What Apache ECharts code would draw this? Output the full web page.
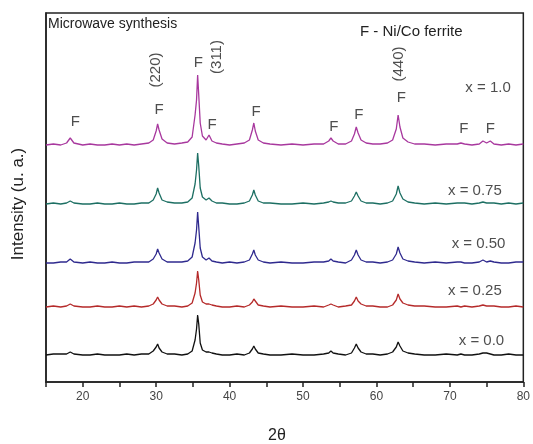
<!DOCTYPE html>
<html>
<head>
<meta charset="utf-8">
<script src="https://cdn.jsdelivr.net/npm/echarts@6/dist/echarts.min.js"></script>
<style>
  html, body { margin: 0; padding: 0; background: #fff; }
  #main { width: 533px; height: 444px; }
</style>
</head>
<body>
<div id="main"></div>
<script>
// 2θ sample points shared by all patterns
const theta = [
  15, 16, 17, 17.8, 18.3, 18.8, 20, 21, 22, 23, 24, 25, 26, 27, 28, 29, 29.6, 30.0, 30.2, 30.4,
  30.8, 31.5, 32.5, 33.5, 34.3, 34.9, 35.3, 35.5, 35.65, 35.8, 36.0, 36.3, 36.8, 37.2, 37.6, 38.2,
  39, 40, 41, 42, 42.7, 43.1, 43.3, 43.5, 43.9, 44.6, 45.5, 47, 48.5, 50, 51.5, 52.8, 53.5, 53.8,
  54.1, 54.8, 55.8, 56.6, 57.0, 57.25, 57.5, 57.9, 58.6, 59.5, 60.5, 61.5, 62.2, 62.7, 62.95, 63.2,
  63.6, 64.3, 65.2, 66.5, 68, 69.5, 71, 71.5, 72, 73, 74, 74.5, 75, 75.5, 76, 77, 78, 79, 80
];

// intensities above each pattern's own baseline
const x100 = [
  0, 1, 0, 2, 7, 2, 0, 1, 0, 0, 1, 0, 1, 0, 1, 2, 5, 14, 21, 15,
  6, 2, 1, 2, 3, 8, 30, 45, 70, 50, 22, 9, 5, 10, 4, 2,
  1, 0, 1, 2, 5, 15, 22, 14, 5, 2, 1, 0, 1, 0, 1, 1, 4, 7,
  4, 1, 1, 4, 11, 18, 12, 5, 2, 1, 1, 2, 5, 16, 30, 18,
  7, 3, 1, 1, 0, 1, 1, 2, 1, 0, 1, 4, 2, 4, 1, 0, 1, 0, 1
];
const x075 = [
  0, 1, 0, 1, 3, 1, 0, 0, 1, 0, 0, 1, 0, 0, 1, 1, 4, 10, 16, 11,
  4, 2, 1, 1, 2, 6, 20, 34, 51, 38, 16, 7, 4, 6, 3, 1,
  1, 0, 0, 1, 3, 9, 14, 9, 3, 1, 1, 0, 0, 1, 0, 1, 2, 3,
  2, 1, 1, 3, 8, 12, 8, 3, 1, 1, 0, 1, 3, 10, 18, 11,
  5, 2, 1, 0, 1, 0, 1, 1, 1, 0, 1, 2, 1, 1, 1, 0, 1, 0, 1
];
const x050 = [
  0, 0, 1, 1, 4, 1, 0, 1, 0, 0, 1, 0, 0, 1, 1, 1, 4, 9, 14, 10,
  4, 1, 1, 1, 2, 6, 20, 33, 51, 36, 15, 6, 3, 5, 2, 1,
  0, 1, 0, 1, 3, 9, 13, 8, 3, 1, 0, 1, 0, 0, 1, 1, 2, 4,
  2, 1, 0, 3, 8, 13, 8, 3, 1, 1, 0, 1, 3, 9, 16, 10,
  4, 2, 1, 0, 1, 0, 1, 1, 0, 0, 1, 3, 1, 2, 1, 0, 0, 1, 1
];
const x025 = [
  0, 1, 0, 1, 3, 1, 0, 0, 1, 0, 0, 1, 0, 1, 0, 1, 3, 7, 10, 7,
  3, 1, 1, 0, 1, 4, 14, 24, 36, 27, 12, 5, 3, 3, 2, 1,
  0, 0, 1, 0, 2, 5, 8, 6, 2, 1, 0, 1, 0, 0, 1, 0, 2, 3,
  2, 0, 1, 2, 6, 10, 6, 3, 1, 1, 0, 0, 2, 7, 13, 8,
  4, 2, 1, 1, 0, 0, 1, 0, 1, 0, 1, 2, 1, 1, 1, 0, 0, 1, 0
];
const x000 = [
  0, 1, 1, 1, 3, 1, 0, 0, 1, 0, 0, 0, 1, 0, 1, 1, 4, 8, 11, 7,
  3, 1, 1, 0, 1, 4, 15, 26, 40, 31, 12, 5, 3, 3, 2, 1,
  0, 0, 1, 0, 2, 6, 9, 6, 2, 1, 0, 0, 1, 0, 0, 1, 2, 4,
  2, 1, 0, 2, 7, 11, 7, 3, 1, 1, 0, 1, 3, 8, 13, 9,
  4, 2, 1, 0, 0, 1, 0, 1, 0, 0, 1, 2, 2, 1, 0, 0, 1, 0, 0
];

const seriesNames = ['x = 0.0', 'x = 0.25', 'x = 0.50', 'x = 0.75', 'x = 1.0'];
const seriesValues = [x000, x025, x050, x075, x100];
const seriesOffsets = [27, 75, 119, 178, 237];
const seriesColors = ['#111111', '#b52a2a', '#2f2a8e', '#1d6f63', '#a8389e'];

// "F" peak markers [2θ, height]
const fMarks = [
  [19.0, 260], [30.4, 272], [35.75, 319], [37.6, 257], [43.6, 270],
  [54.2, 255], [57.6, 267], [63.4, 284], [71.9, 253], [75.5, 253]
];
// Miller indices [2θ, height, text]
const hklMarks = [[29.95, 312, '(220)'], [38.2, 325, '(311)'], [63.1, 318, '(440)']];
// series labels [2θ, height]
const nameMarks = [[74.3, 41], [73.4, 91], [73.9, 138], [73.4, 191], [75.2, 294]];

const xTicks = [20, 30, 40, 50, 60, 70, 80];

const font = 'Arial, "Liberation Sans", sans-serif';

const lineSeries = seriesValues.map((vals, i) => ({
  name: seriesNames[i],
  type: 'line',
  data: theta.map((t, k) => [t, vals[k] + seriesOffsets[i]]),
  symbol: 'none',
  lineStyle: { color: seriesColors[i], width: 1.3 },
  z: 2
}));

const textSeries = (data, fmt, size, rotate) => ({
  type: 'scatter',
  data: data,
  symbolSize: 0,
  silent: true,
  label: {
    show: true,
    position: 'inside',
    formatter: fmt,
    rotate: rotate || 0,
    fontFamily: font,
    fontSize: size,
    color: '#222'
  },
  z: 3
});

const myChart = echarts.init(document.getElementById('main'));
myChart.setOption({
  animation: false,
  grid: { left: 46, right: 5, top: 13, bottom: 62, show: true, borderColor: '#222', borderWidth: 1.5 },
  xAxis: {
    type: 'value',
    min: 15,
    max: 80,
    interval: 5,
    axisLine: { lineStyle: { color: '#222', width: 1.5 } },
    axisTick: { length: 5, lineStyle: { color: '#222', width: 1.5 } },
    axisLabel: {
      fontFamily: font, fontSize: 12, color: '#444', margin: 9,
      formatter: v => (xTicks.includes(v) ? String(v) : '')
    },
    splitLine: { show: false }
  },
  yAxis: {
    type: 'value',
    min: 0,
    max: 369,
    axisLine: { show: true, lineStyle: { color: '#222', width: 1.5 } },
    axisTick: { show: false },
    axisLabel: { show: false },
    splitLine: { show: false }
  },
  series: [
    ...lineSeries,
    textSeries(fMarks, 'F', 15),
    textSeries(hklMarks, p => p.data[2], 15, 90),
    textSeries(nameMarks, p => seriesNames[p.dataIndex], 15)
  ],
  graphic: [
    { type: 'text', left: 48, top: 17, style: { text: 'Microwave synthesis', fontFamily: font, fontSize: 14, fill: '#222' } },
    { type: 'text', left: 360, top: 24, style: { text: 'F - Ni/Co ferrite', fontFamily: font, fontSize: 15, fill: '#222' } },
    { type: 'text', x: 18, y: 204, rotation: Math.PI / 2, style: { text: 'Intensity (u. a.)', fontFamily: font, fontSize: 17, fill: '#222', align: 'center', verticalAlign: 'middle' } },
    { type: 'text', x: 277, y: 436, style: { text: '2θ', fontFamily: font, fontSize: 16, fill: '#222', align: 'center', verticalAlign: 'middle' } }
  ]
});
</script>
</body>
</html>
